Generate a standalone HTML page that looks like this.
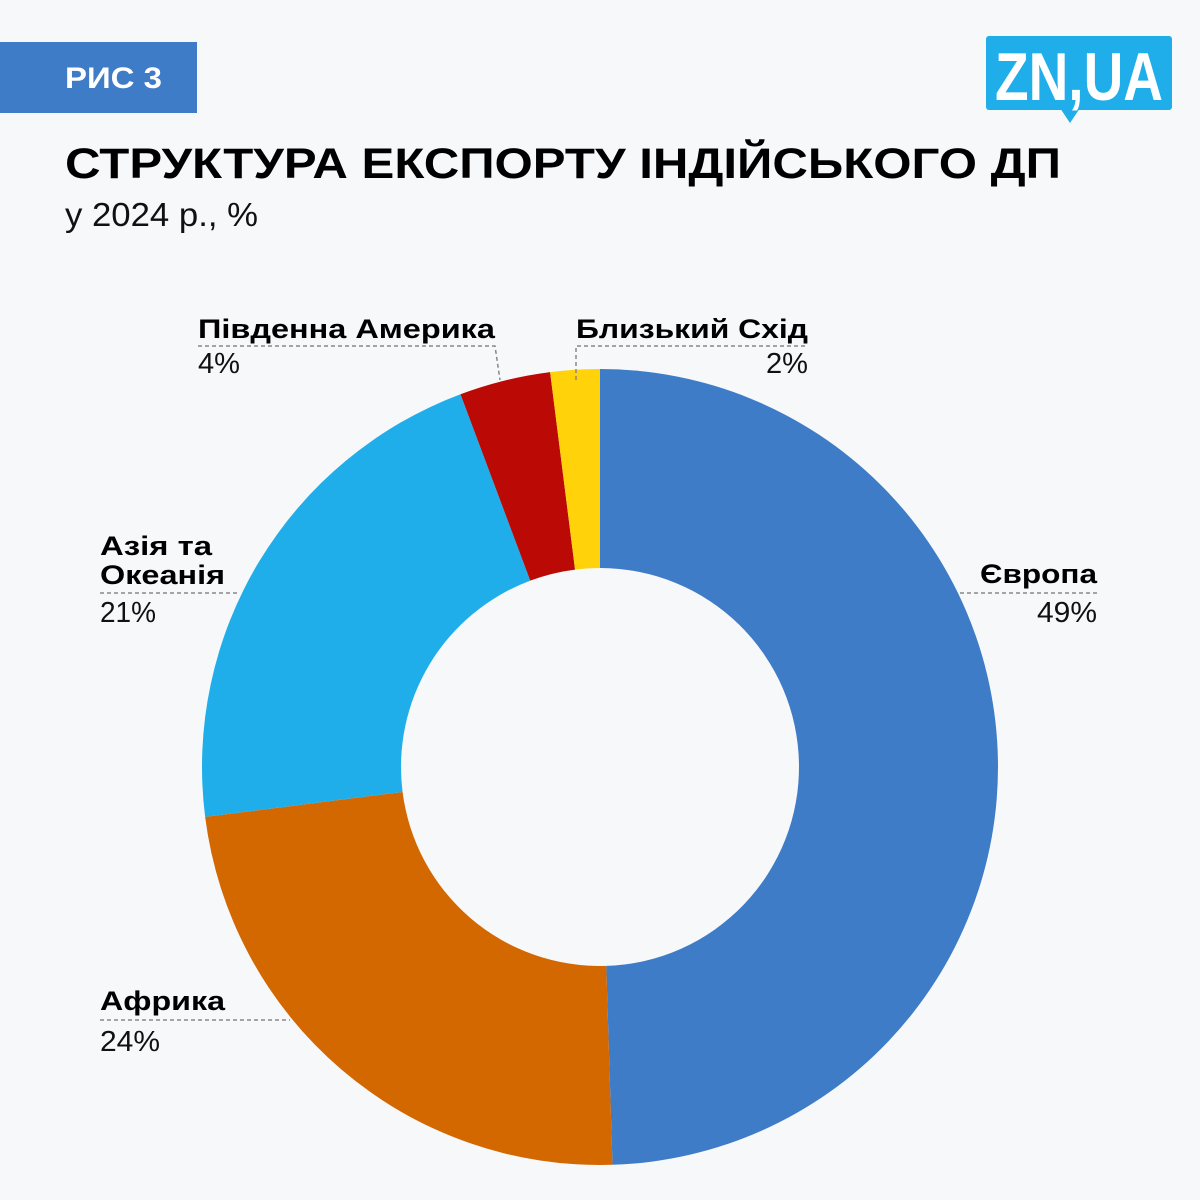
<!DOCTYPE html>
<html><head><meta charset="utf-8">
<style>
body{margin:0;background:#f7f8fa;font-family:"Liberation Sans","DejaVu Sans",sans-serif;}
#wrap{position:relative;width:1200px;height:1200px;overflow:hidden;background:#f7f8fa;}
</style></head>
<body>
<div id="wrap">
<svg width="1200" height="1200" viewBox="0 0 1200 1200">
  <rect x="0" y="42" width="197" height="71" fill="#3e7cc7"/>
  <text x="65" y="88" font-size="30" font-weight="bold" fill="#fff" textLength="97" lengthAdjust="spacingAndGlyphs" font-family="Liberation Sans, sans-serif">РИС 3</text>
  <g>
    <rect x="986" y="36" width="186" height="74" rx="3" fill="#20aeea"/>
    <polygon points="1060,108 1080,108 1070,123" fill="#20aeea"/>
    <text x="1079" y="100" text-anchor="middle" font-size="68" font-weight="bold" fill="#fff" textLength="168" lengthAdjust="spacingAndGlyphs" font-family="Liberation Sans, sans-serif">ZN,UA</text>
  </g>
  <text x="65" y="178" font-size="43" font-weight="bold" fill="#000" textLength="996" lengthAdjust="spacingAndGlyphs">СТРУКТУРА ЕКСПОРТУ ІНДІЙСЬКОГО ДП</text>
  <text x="65" y="226" font-size="33" fill="#111" textLength="193" lengthAdjust="spacingAndGlyphs">у 2024 р., %</text>
  <g id="donut"></g>
  <g id="labels"></g>
</svg>
</div>
<script>
const categories = ["Європа","Африка","Азія та Океанія","Південна Америка","Близький Схід"];
const values = [49.5, 23.5, 21.3, 3.7, 2.0];
const printed = ["49%","24%","21%","4%","2%"];
const colors = ["#3e7cc7","#d36700","#20aeea","#bb0a06","#ffd20a"];
const cx=600, cy=767, R=398, r=199;
const NS="http://www.w3.org/2000/svg";
const total = values.reduce((a,b)=>a+b,0);
function angle(v){return v/total*2*Math.PI;}
function pt(a,rad){return [cx+rad*Math.sin(a), cy-rad*Math.cos(a)];}
const donut=document.getElementById('donut');
let acc=0;
values.forEach((v,i)=>{
  const a0=angle(acc), a1=angle(acc+v); acc+=v;
  const large=(a1-a0)>Math.PI?1:0;
  const p0=pt(a0,R),p1=pt(a1,R),q1=pt(a1,r),q0=pt(a0,r);
  const d=`M${p0[0]},${p0[1]} A${R},${R} 0 ${large} 1 ${p1[0]},${p1[1]} L${q1[0]},${q1[1]} A${r},${r} 0 ${large} 0 ${q0[0]},${q0[1]} Z`;
  const p=document.createElementNS(NS,'path');
  p.setAttribute('d',d);p.setAttribute('fill',colors[i]);
  
  
  donut.appendChild(p);
});
const L=document.getElementById('labels');
function add(tag,attrs,text,name){
  const e=document.createElementNS(NS,tag);
  for(const k in attrs)e.setAttribute(k,attrs[k]);
  if(text)e.textContent=text;
  
  
  L.appendChild(e);return e;
}
const lineStyle={fill:'none',stroke:'#888','stroke-width':1.5,'stroke-dasharray':'4,3'};
const specs=[
  {lines:[categories[0]],w:[117],vw:60,x:1097,anchor:'end',y:583,vy:622,lead:'M960,593 L1098,593'},
  {lines:[categories[1]],w:[125],vw:60,x:100,anchor:'start',y:1010,vy:1051,lead:'M100,1020 L290,1020'},
  {lines:["Азія та","Океанія"],w:[112,125],vw:56,x:100,anchor:'start',y:555,vy:622,lead:'M100,593 L240,593'},
  {lines:[categories[3]],w:[297],vw:42,x:198,anchor:'start',y:338,vy:373,lead:'M198,346 L495,346 L500,380'},
  {lines:[categories[4]],w:[232],vw:42,x:808,anchor:'end',y:338,vy:373,lead:'M576,380 L576,346 L808,346'}
];
specs.forEach((s,i)=>{
  add('path',Object.assign({d:s.lead},lineStyle),null,'leader-line-'+i);
  s.lines.forEach((t,j)=>add('text',{x:s.x,y:s.y+j*29,'text-anchor':s.anchor,'font-size':27,'font-weight':'bold',fill:'#000',textLength:s.w[j],lengthAdjust:'spacingAndGlyphs'},t,'label-name-'+i));
  add('text',{x:s.x,y:s.vy,'text-anchor':s.anchor,'font-size':29,fill:'#111',textLength:s.vw,lengthAdjust:'spacingAndGlyphs'},printed[i],'label-value-'+i);
});
</script>
</body></html>
